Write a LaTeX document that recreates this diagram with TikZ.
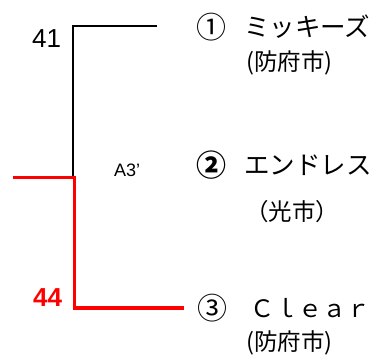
\documentclass[tikz,border=0pt]{standalone}
\usepackage{fontspec}
\setmainfont{Liberation Sans}
\newfontfamily\jp{Noto Sans CJK JP}
\begin{document}
\begin{tikzpicture}[x=1pt,y=-1pt,
  blackline/.style={line width=2pt,black},
  redline/.style={line width=3.5pt,red},
  jptext/.style={anchor=west,inner sep=0pt,font=\jp\fontsize{23.5}{23.5}\selectfont},
  kana/.style={anchor=west,inner sep=0pt,font=\jp\fontsize{25.5}{25.5}\selectfont},
  circ/.style={anchor=center,inner sep=0pt,font=\jp\fontsize{30}{30}\selectfont},
  num/.style={anchor=west,inner sep=0pt,font=\fontsize{26}{26}\selectfont}]
\useasboundingbox (0,0) rectangle (373,358);
\coordinate (t1) at (157,26);
\coordinate (c1) at (73,26);
\coordinate (j) at (73,177);
\coordinate (r0) at (13,177.5);
\coordinate (rj) at (74.5,177.5);
\coordinate (r3) at (74.5,308);
\coordinate (t3) at (184,308);
\draw[blackline] (t1) -- (c1) -- (j);
\draw[redline] (r0) -- (rj) -- (r3) -- (t3);
\node[num] (n41) at (32,39) {41};
\node[num,text=red,font=\bfseries\fontsize{26}{26}\selectfont] (n44) at (33,298) {44};
\node[anchor=west,inner sep=0pt,font=\fontsize{18}{18}\selectfont] (a3) at (114,170) {A3’};
\node[circ] (c1n) at (211,27) {①};
\node[kana] (name1) at (244,27) {ミッキーズ};
\node[jptext] (city1) at (246,63) {(防府市)};
\node[circ,font=\jp\bfseries\fontsize{30}{30}\selectfont] (c2n) at (211,165) {②};
\node[kana] (name2) at (244,165) {エンドレス};
\node[jptext] (city2) at (245,212) {（光市）};
\node[circ] (c3n) at (212,308) {③};
\node[kana,font=\jp\fontsize{24}{24}\selectfont] (name3) at (250,308) {Ｃｌｅａｒ};
\node[jptext] (city3) at (246,343) {(防府市)};
\end{tikzpicture}
\end{document}
